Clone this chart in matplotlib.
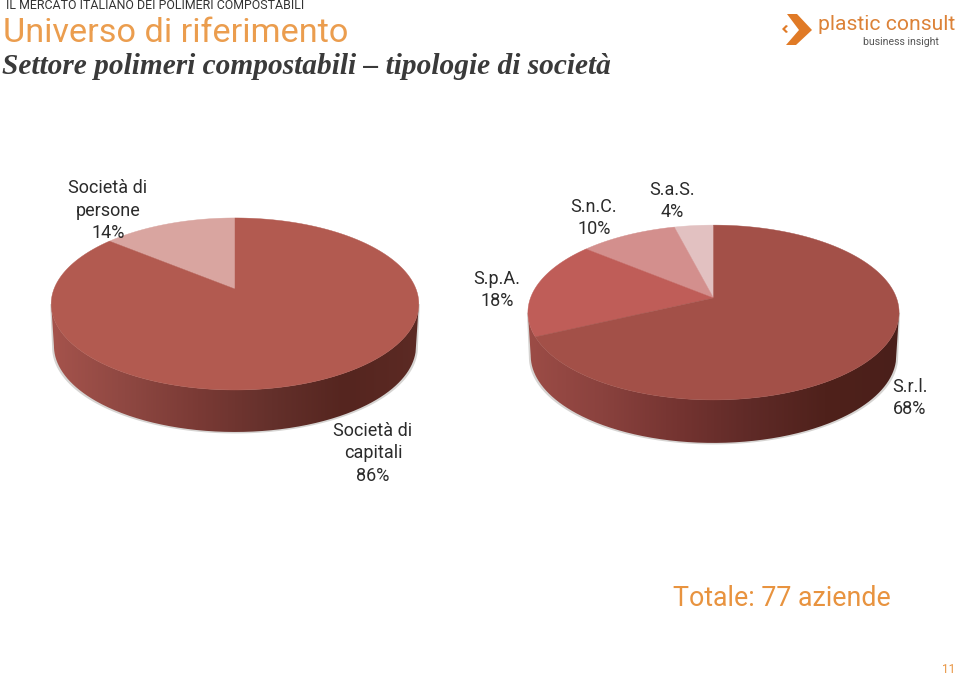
import matplotlib
matplotlib.use("Agg")
import matplotlib.pyplot as plt
import numpy as np
from matplotlib.colors import LinearSegmentedColormap
from matplotlib.patches import PathPatch
from matplotlib.path import Path

# dati
left_labels = ["Società di\npersone", "Società di\ncapitali"]
left_values = [14, 86]
left_colors = ["#d9a5a0", "#b25a50"]

right_labels = ["S.a.S.", "S.n.C.", "S.p.A.", "S.r.l."]
right_values = [4, 10, 18, 68]
right_colors = ["#e2c1c1", "#d38f8d", "#bf5d58", "#a35048"]

total_text = "Totale: 77 aziende"

orange = "#e8933f"
text_color = "#2b2b2b"
label_font = "Roboto"

fig = plt.figure(figsize=(9.59, 6.75), dpi=100, facecolor="white")
ax = fig.add_axes([0, 0, 1, 1])
ax.set_xlim(0, 959)
ax.set_ylim(675, 0)
ax.axis("off")


def rim(t, ax0, ay0, rx, ry, k):
    # punto del bordo con prospettiva, t in senso antiorario da ore 12
    u, v = -np.sin(t), np.cos(t)
    w = 1 + k * v
    return ax0 + rx * u / w, ay0 - ry * v / w


def pie3d(values, colors, ax0, ay0, rx, ry, k, depth, side_cmap, zorder=2):
    t = np.linspace(0, 2 * np.pi, 720)
    x, y = rim(t, ax0, ay0, rx, ry, k)
    # parte inferiore del bordo, dal punto piu' a sinistra a quello piu' a destra
    i0, i1 = np.argmin(x), np.argmax(x)
    xb, yb = x[i0:i1 + 1], y[i0:i1 + 1]
    sx = ax0 + (xb - ax0) * 0.985

    # ombra
    ax.fill(np.r_[xb[0] - 1, (sx - ax0) * 1.01 + ax0, xb[-1] + 1],
            np.r_[yb[0], yb + depth + 1.5, yb[-1]],
            color="#d6d4d2", lw=0, zorder=zorder)

    # fianco con sfumatura
    verts = np.r_[np.c_[xb, yb], np.c_[sx, yb + depth][::-1]]
    clip = PathPatch(Path(np.r_[verts, verts[:1]]), fc="none", ec="none",
                     transform=ax.transData)
    ax.add_patch(clip)
    grad = np.linspace(0, 1, 256).reshape(1, -1)
    im = ax.imshow(grad, cmap=side_cmap, aspect="auto", zorder=zorder + 0.1,
                   extent=[xb.min(), xb.max(), yb.max() + depth, yb.min()])
    im.set_clip_path(clip)

    # spicchi
    start = 0.0
    total = sum(values)
    for val, col in zip(values, colors):
        end = start + val / total * 2 * np.pi
        tt = np.linspace(start, end, 300)
        wx, wy = rim(tt, ax0, ay0, rx, ry, k)
        ax.fill(np.r_[ax0, wx], np.r_[ay0, wy], color=col, lw=0.3, ec=col,
                zorder=zorder + 0.2)
        start = end


left_side = LinearSegmentedColormap.from_list(
    "ls", ["#a5534c", "#8f4842", "#7a3a35", "#64302b", "#55251f", "#5c2a24"])
right_side = LinearSegmentedColormap.from_list(
    "rs", ["#9c4c46", "#8a423e", "#753431", "#5f2a27", "#4f211b", "#4a1f1a"])

pie3d(left_values, left_colors, 235, 289, 181, 83.4, 0.174, 42, left_side)
pie3d(right_values, right_colors, 713.5, 298, 183, 85, 0.166, 43, right_side)
ax.set_xlim(0, 959)
ax.set_ylim(675, 0)

# etichette
lab = dict(family=label_font, fontsize=13, color=text_color, ha="center",
           va="center", linespacing=1.3)
ax.text(108, 210.5, f"{left_labels[0]}\n{left_values[0]}%", **lab)
ax.text(373, 453.5, f"{left_labels[1]}\n{left_values[1]}%", **lab)
ax.text(672, 201, f"{right_labels[0]}\n{right_values[0]}%", **lab)
ax.text(594, 218, f"{right_labels[1]}\n{right_values[1]}%", **lab)
ax.text(497, 290, f"{right_labels[2]}\n{right_values[2]}%", **lab)
ax.text(910, 398, f"{right_labels[3]}\n{right_values[3]}%", **lab)

# intestazione
ax.text(6, 5.5, "IL MERCATO ITALIANO DEI POLIMERI COMPOSTABILI", family=label_font,
        fontsize=8.9, color="#333333", va="center", ha="left")
ax.text(3, 33, "Universo di riferimento", family=label_font, fontsize=24.7,
        color="#eb9d4e", va="center", ha="left")
ax.text(2, 66, "Settore polimeri compostabili – tipologie di società",
        family="Liberation Serif", style="italic", fontweight="bold",
        fontsize=21.2, color="#3a3a3a", va="center", ha="left")

# logo
ax.fill([787, 797, 812, 796, 786, 799], [14, 14, 30, 45, 45, 30],
        color="#e07a26", lw=0)
ax.fill([786, 782, 786, 788, 785, 788], [25, 29, 33, 32, 29, 26],
        color="#e07a26", lw=0)
ax.text(818, 24, "plastic consult", family=label_font, fontsize=15.2,
        color="#dc8238", va="center", ha="left")
ax.text(863, 42, "business insight", family=label_font, fontsize=7.6,
        color="#555555", va="center", ha="left")

# piede
ax.text(673, 598, total_text, family=label_font, fontsize=19.3, color=orange,
        va="center", ha="left")
ax.text(949, 669.5, "11", family=label_font, fontsize=8.5, color=orange,
        va="center", ha="center")

fig.savefig("out.png", dpi=100, facecolor="white")
